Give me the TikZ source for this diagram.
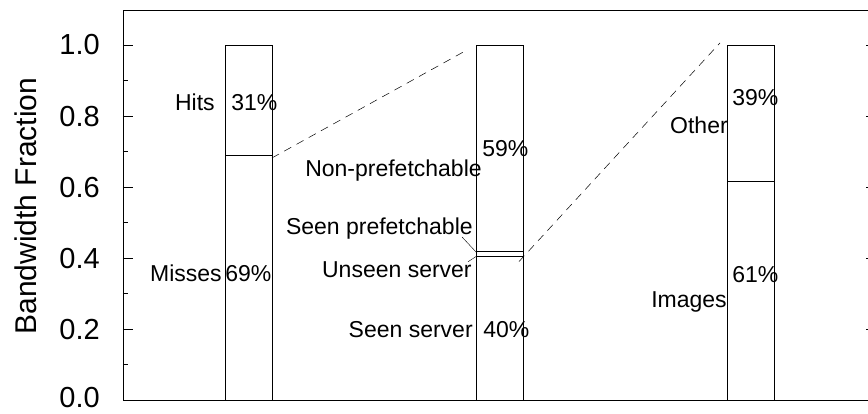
\documentclass[tikz,border=0pt]{standalone}
\usepackage{fontspec}
\setmainfont{Liberation Sans}
\begin{document}
\begin{tikzpicture}[x=1pt,y=355pt,line width=0.6pt,
  thang/.style={font=\fontsize{29}{34}\selectfont,inner sep=0pt},
  nhan/.style={font=\fontsize{23}{27}\selectfont,inner sep=0pt},
  cot/.style={draw,line width=0.5pt,inner sep=0pt,minimum width=47pt,minimum height=355pt,anchor=south west},
  gach/.style={dash pattern=on 8pt off 6pt,line width=0.5pt}]
  \clip (-123,-0.0366) rectangle (745,1.1268);
  % Vẽ khung và trục
  \draw (0,0) rectangle (753,1.0986);
  \foreach \i/\t in {1/0.2,2/0.4,3/0.6,4/0.8,5/1.0}
  {\draw (0,\i/5) -- (10,\i/5);
   \draw (753,\i/5) -- (743,\i/5);
   \node[thang,anchor=east] (y\i) at (-23,\i/5) {\t};}
  \node[thang,anchor=east] (y0) at (-23,0.006) {0.0};
  \foreach \i in {1,3,5,7,9}
  \draw (0,\i/10) -- (5,\i/10);
  \node[thang,font=\fontsize{30}{36}\selectfont,rotate=90] (truc) at (-97,0.546) {Bandwidth Fraction};
  % Vẽ các cột
  \foreach \i/\x in {1/102,2/353,3/604}
  \node[cot] (cot\i) at (\x,0) {};
  \draw (102,0.69) -- (149,0.69);
  \draw (353,0.42) -- (400,0.42);
  \draw[line width=1.2pt] (353,0.404) -- (400,0.404);
  \draw (604,0.615) -- (651,0.615);
  % Nhãn
  \node[nhan,anchor=base west] (p31) at (108,0.815) {31\%};
  \node[nhan,anchor=base east] (hits) at (92,0.815) {Hits};
  \node[nhan,anchor=base west] (p69) at (102,0.333) {69\%};
  \node[nhan,anchor=base east] (misses) at (99,0.333) {Misses};
  \node[nhan,anchor=base west] (p59) at (359,0.687) {59\%};
  \node[nhan,anchor=base east] (nonpref) at (359,0.631) {Non-prefetchable};
  \node[nhan,anchor=base east] (seenpref) at (350,0.465) {Seen prefetchable};
  \node[nhan,anchor=base east] (unseen) at (349,0.344) {Unseen server};
  \node[nhan,anchor=base east] (seen) at (350,0.175) {Seen server};
  \node[nhan,anchor=base west] (p40) at (360,0.175) {40\%};
  \node[nhan,anchor=base west] (p39) at (609,0.831) {39\%};
  \node[nhan,anchor=base east] (other) at (605,0.752) {Other};
  \node[nhan,anchor=base west] (p61) at (609,0.330) {61\%};
  \node[nhan,anchor=base east] (images) at (604,0.262) {Images};
  % Đường nối
  \coordinate (sp) at (354,0.414);
  \coordinate (us) at (354,0.406);
  \draw[line width=0.4pt] ([xshift=-11pt,yshift=-2pt]seenpref.base east) -- (sp);
  \draw[line width=0.4pt] ([xshift=-4pt]unseen.north east) -- (us);
  \coordinate (a1) at (149,0.682);
  \coordinate (a2) at (344,0.986);
  \coordinate (b1) at (396,0.39);
  \coordinate (b2) at (597,1.006);
  \draw[gach] (a1) -- (a2);
  \draw[gach] (b1) -- (b2);
\end{tikzpicture}
\end{document}
